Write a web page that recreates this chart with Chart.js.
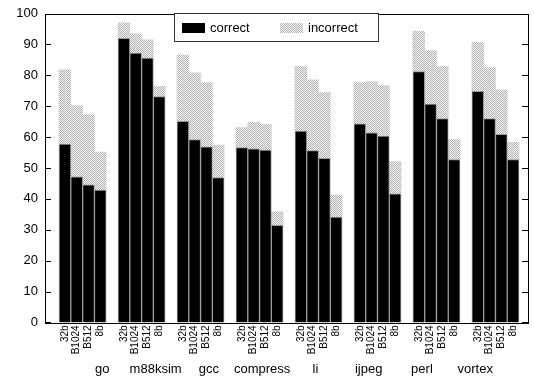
<!DOCTYPE html>
<html>
<head>
<meta charset="utf-8">
<script src="https://cdn.jsdelivr.net/npm/chart.js@4/dist/chart.umd.min.js"></script>
<style>
  html, body { margin: 0; padding: 0; background: #fff; }
  #wrap { width: 534px; height: 385px; }
</style>
</head>
<body>
<div id="wrap"><canvas id="c" width="534" height="385"></canvas></div>
<script>
// Benchmarks and predictor configurations
const benchmarks = ['go', 'm88ksim', 'gcc', 'compress', 'li', 'ijpeg', 'perl', 'vortex'];
const configs = ['32b', 'B1024', 'B512', '8b'];

// Percent of predictions, per benchmark, per configuration
const correct = [
  [57.7, 47.1, 44.5, 42.8],
  [92.0, 87.2, 85.6, 73.1],
  [65.1, 59.2, 56.8, 46.9],
  [56.6, 56.2, 55.8, 31.4],
  [61.9, 55.6, 53.1, 34.1],
  [64.3, 61.4, 60.3, 41.6],
  [81.2, 70.7, 66.0, 52.7],
  [74.8, 66.0, 60.9, 52.7]
];
const incorrect = [
  [24.1, 23.1, 22.7, 12.3],
  [5.0, 6.2, 5.9, 3.3],
  [21.4, 21.6, 20.8, 10.5],
  [6.5, 8.6, 8.3, 4.4],
  [20.9, 22.9, 21.3, 7.1],
  [13.3, 16.6, 16.4, 10.5],
  [13.0, 17.3, 16.8, 6.5],
  [15.9, 16.5, 14.4, 5.6]
];
const yTicks = [0, 10, 20, 30, 40, 50, 60, 70, 80, 90, 100];

// Each benchmark takes four bar slots plus one empty slot
const SLOTS = configs.length + 1;
const barPos = [], barLabel = [], corrPts = [], incPts = [];
benchmarks.forEach((b, g) => {
  configs.forEach((cfg, k) => {
    const x = g * SLOTS + k;
    barPos.push(x);
    barLabel.push(cfg);
    corrPts.push({ x, y: correct[g][k] });
    incPts.push({ x, y: incorrect[g][k] });
  });
});
const groupPos = benchmarks.map((b, g) => g * SLOTS + (configs.length - 1) / 2);
const X_MIN = -1.05, X_MAX = 38.62;

// Stippled grey fill for the incorrect share
function stipple() {
  const p = document.createElement('canvas');
  p.width = 2; p.height = 2;
  const c = p.getContext('2d');
  c.fillStyle = '#f4f4f4'; c.fillRect(0, 0, 2, 2);
  c.fillStyle = '#b2b2b2'; c.fillRect(0, 0, 1, 1); c.fillRect(1, 1, 1, 1);
  return c.createPattern(p, 'repeat');
}
const dotted = stipple();

const FONT = "'Liberation Sans', Arial, Helvetica, sans-serif";

// Frame with inward ticks on both sides, plus the in-plot legend
const framePlugin = {
  id: 'frame',
  afterDraw(chart) {
    const { ctx, chartArea: a } = chart;
    const ys = chart.scales.y;
    ctx.save();
    ctx.strokeStyle = '#000';
    ctx.lineWidth = 1;
    ctx.strokeRect(Math.round(a.left) + 0.5, Math.round(a.top) + 0.5,
                   Math.round(a.right - a.left), Math.round(a.bottom - a.top));
    ctx.beginPath();
    yTicks.forEach(v => {
      const y = Math.round(ys.getPixelForValue(v)) + 0.5;
      ctx.moveTo(a.left, y); ctx.lineTo(a.left + 6, y);
      ctx.moveTo(a.right, y); ctx.lineTo(a.right - 6, y);
    });
    ctx.stroke();

    // legend box
    const bx = 174.5, by = 13.5, bw = 204, bh = 28;
    ctx.fillStyle = '#fff';
    ctx.fillRect(bx, by, bw, bh);
    ctx.strokeStyle = '#333';
    ctx.strokeRect(bx, by, bw, bh);
    const items = chart.data.datasets;
    const sx = [182, 280];
    ctx.font = '13px ' + FONT;
    ctx.textBaseline = 'middle';
    items.forEach((ds, i) => {
      ctx.fillStyle = ds.backgroundColor;
      ctx.fillRect(sx[i], 23, 23, 10);
      ctx.fillStyle = '#000';
      ctx.fillText(ds.label, sx[i] + 28, 28.5);
    });
    ctx.restore();
  }
};

new Chart(document.getElementById('c'), {
  type: 'bar',
  data: {
    datasets: [
      { label: 'correct', data: corrPts, backgroundColor: '#000', borderColor: '#999', borderWidth: 1 },
      { label: 'incorrect', data: incPts, backgroundColor: dotted, borderColor: '#bbb', borderWidth: 0 }
    ]
  },
  options: {
    responsive: false,
    animation: false,
    devicePixelRatio: 1,
    layout: { padding: { left: 0, right: 6, top: 6, bottom: 0 } },
    datasets: { bar: { barPercentage: 1, categoryPercentage: 1 } },
    plugins: { legend: { display: false }, tooltip: { enabled: false } },
    scales: {
      x: {
        type: 'linear', min: X_MIN, max: X_MAX, stacked: true, weight: 0,
        grid: { display: false, drawTicks: false }, border: { display: false },
        afterBuildTicks: s => { s.ticks = barPos.map(v => ({ value: v })); },
        afterFit: s => { s.height = 33; },
        ticks: {
          autoSkip: false, minRotation: 90, maxRotation: 90, padding: 3,
          color: '#000', font: { family: FONT, size: 10 },
          callback: (v, i) => barLabel[i]
        }
      },
      x2: {
        type: 'linear', position: 'bottom', min: X_MIN, max: X_MAX, weight: 1,
        grid: { display: false, drawTicks: false }, border: { display: false },
        afterBuildTicks: s => { s.ticks = groupPos.map(v => ({ value: v })); },
        afterFit: s => { s.height = 29.6; },
        ticks: {
          autoSkip: false, maxRotation: 0, padding: 6,
          color: '#000', font: { family: FONT, size: 13 },
          callback: (v, i) => benchmarks[i]
        }
      },
      y: {
        stacked: true, min: 0, max: 100,
        grid: { display: false, drawTicks: false }, border: { display: false },
        afterBuildTicks: s => { s.ticks = yTicks.map(v => ({ value: v })); },
        afterFit: s => { s.width = 45; },
        ticks: { padding: 7, color: '#000', font: { family: FONT, size: 13, lineHeight: 1 } }
      }
    }
  },
  plugins: [framePlugin]
});
</script>
</body>
</html>
